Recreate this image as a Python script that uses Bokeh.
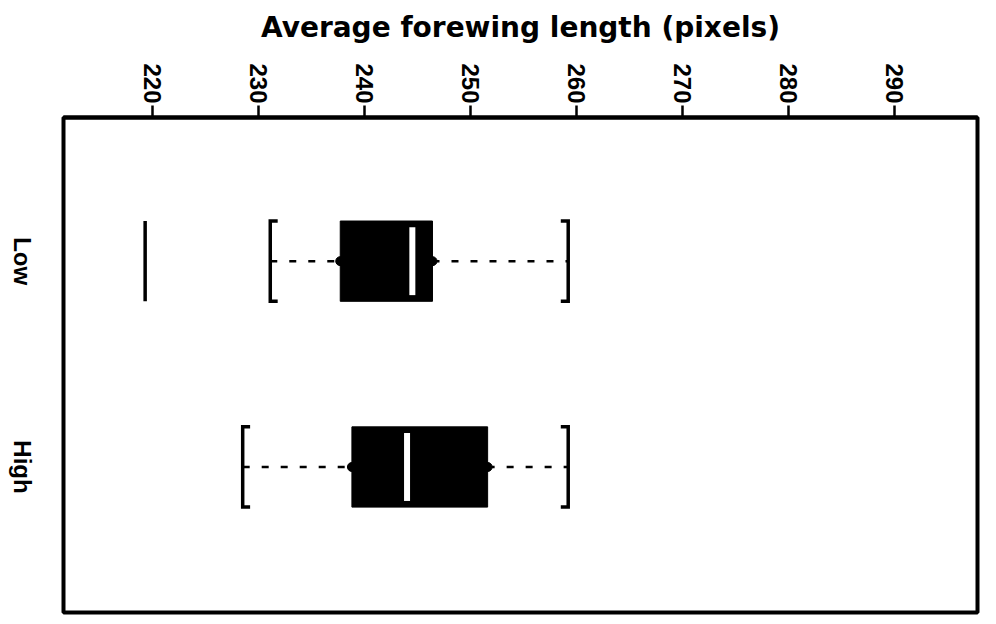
import math
from bokeh.plotting import figure
from bokeh.layouts import row
from bokeh.models import Range1d, FixedTicker
from bokeh.core.properties import value
from bokeh.embed import file_html
from bokeh.resources import INLINE

# Box-plot summaries per group (forewing length in pixels)
groups = ["Low", "High"]
group_pos = [1, 0]
q1 = [237.7, 238.8]
medians = [244.5, 244.0]
q3 = [246.4, 251.6]
whisker_lo = [231.1, 228.5]
whisker_hi = [259.2, 259.2]
outlier_pos = [1]
outlier_values = [219.3]
x_ticks = [220, 230, 240, 250, 260, 270, 280, 290]

FONT = "Liberation Sans"
TITLE_FONT = "DejaVu Sans"
BOX_H = 0.39          # box height in category units
HALF = BOX_H / 2
CAP = 0.7             # bracket foot length in data units
LEFT_W = 60           # width of the strip holding the group names
TOP, BOTTOM = 117, 12

y_range = Range1d(-0.707, 1.698)

# narrow strip on the left with the rotated group names
names = figure(
    width=LEFT_W, height=624, x_range=Range1d(0, LEFT_W), y_range=y_range,
    output_backend="svg", toolbar_location=None,
    min_border_left=0, min_border_right=0,
    min_border_top=TOP, min_border_bottom=BOTTOM,
)
names.axis.visible = False
names.grid.visible = False
names.outline_line_color = None
names.background_fill_color = "white"
names.border_fill_color = "white"
names.text(x=[22] * len(groups), y=group_pos, text=groups, angle=-math.pi / 2,
           text_align="center", text_baseline="middle",
           text_font=value(FONT), text_font_style="bold",
           text_font_size="24px", text_color="black")

p = figure(
    width=996 - LEFT_W, height=624,
    x_range=Range1d(211.6, 297.8),
    y_range=y_range,
    x_axis_location="above",
    output_backend="svg", toolbar_location=None,
    min_border_left=63 - LEFT_W, min_border_right=19,
    min_border_top=TOP, min_border_bottom=BOTTOM,
)
p.background_fill_color = "white"
p.border_fill_color = "white"
p.outline_line_color = "black"
p.outline_line_width = 4
p.xgrid.grid_line_color = None
p.ygrid.grid_line_color = None
p.yaxis.visible = False

# top value axis
xa = p.xaxis[0]
xa.ticker = FixedTicker(ticks=x_ticks)
xa.minor_tick_line_color = None
xa.major_tick_in = 0
xa.major_tick_out = 12
xa.major_tick_line_width = 2.5
xa.major_tick_line_color = "black"
xa.axis_line_width = 4
xa.axis_line_color = "black"
xa.major_label_orientation = -math.pi / 2
xa.major_label_standoff = 2
xa.major_label_text_font = FONT
xa.major_label_text_font_style = "bold"
xa.major_label_text_font_size = "24px"
xa.major_label_text_color = "black"
xa.axis_label = "Average forewing length (pixels)"
xa.axis_label_text_font = TITLE_FONT
xa.axis_label_text_font_style = "bold"
xa.axis_label_text_font_size = "28px"
xa.axis_label_text_color = "black"
xa.axis_label_standoff = 16

# dashed whiskers
p.segment(x0=whisker_lo, y0=group_pos, x1=q1, y1=group_pos,
          line_color="black", line_width=2.5, line_dash="7 12")
p.segment(x0=q3, y0=group_pos, x1=whisker_hi, y1=group_pos,
          line_color="black", line_width=2.5, line_dash="7 12")

# bracket-shaped whisker ends
xs, ys = [], []
for lo, hi, y in zip(whisker_lo, whisker_hi, group_pos):
    xs.append([lo + CAP, lo, lo, lo + CAP])
    ys.append([y + HALF, y + HALF, y - HALF, y - HALF])
    xs.append([hi - CAP, hi, hi, hi - CAP])
    ys.append([y + HALF, y + HALF, y - HALF, y - HALF])
p.multi_line(xs=xs, ys=ys, line_color="black", line_width=3.5,
             line_join="miter")

# boxes
p.hbar(y=group_pos, left=q1, right=q3, height=BOX_H,
       fill_color="black", line_color="black", line_width=1)
p.scatter(x=q1 + q3, y=group_pos + group_pos, size=9, color="black")

# medians
p.rect(x=medians, y=group_pos, width=6, width_units="screen",
       height=BOX_H - 0.06, fill_color="white", line_color=None)

# outliers drawn as vertical bars
p.segment(x0=outlier_values, y0=[y - HALF for y in outlier_pos],
          x1=outlier_values, y1=[y + HALF for y in outlier_pos],
          line_color="black", line_width=3.5)

layout = row(names, p)
open("out.html", "w").write(file_html(layout, INLINE))
